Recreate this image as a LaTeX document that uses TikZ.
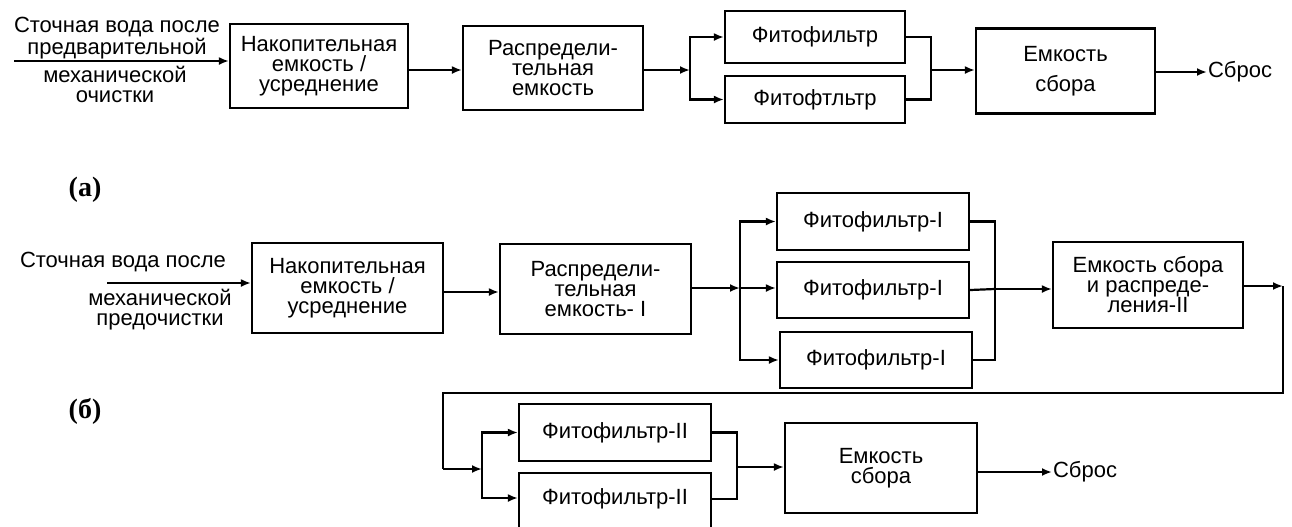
\documentclass[tikz,border=0pt]{standalone}
\usepackage{fontspec}
\setmainfont{Liberation Sans}
\newfontfamily\labelfont{Liberation Serif}
\usetikzlibrary{arrows.meta,calc,positioning}
\tikzset{
  unitbox/.style={draw=black,line width=1.1pt,align=center,inner sep=0pt,
    font=\fontsize{11}{10}\selectfont},
  flowtext/.style={align=center,inner sep=0pt,font=\fontsize{11}{10}\selectfont},
  arr/.style={-{Latex[length=5pt,width=4pt]}},
}
\begin{document}
\begin{tikzpicture}[x=0.5pt,y=-0.5pt,line width=1.1pt]
            \useasboundingbox (0,0) rectangle (1292,526);
            % Scheme (a): boxes
            \node[unitbox,minimum width=89pt,minimum height=42pt] (nak_a) at (319,66) {Накопительная\\емкость /\\усреднение};
            \node[unitbox,minimum width=90pt,minimum height=42pt] (raspr_a) at (553,68) {Распредели-\\тельная\\емкость};
            \node[unitbox,minimum width=90pt,minimum height=26pt] (ff_a1) at (815,37) {Фитофильтр};
            \node[unitbox,minimum width=90pt,minimum height=23.5pt] (ff_a2) at (815,99.5) {Фитофтльтр};
            \node[unitbox,minimum width=89.5pt,minimum height=42.5pt] (sbor_a) at (1065.5,71) {Емкость\\[5pt]сбора};
            \node[flowtext,anchor=west] (sbros_a) at (1207,72) {Сброс};
            % Scheme (a): input text
            \node[flowtext] (in_a_top) at (117,38) {Сточная вода после\\предварительной};
            \node[flowtext] (in_a_bot) at (115,84) {механической\\очистки};
            \coordinate (in_a) at (14,61);
            % Scheme (a): connectors
            \coordinate (spl_a) at (690,70);
            \coordinate (mrg_a) at (931,70);
            \draw[arr] (in_a) -- (nak_a.west |- in_a);
            \draw[arr] (nak_a.east |- spl_a) -- (raspr_a.west |- spl_a);
            \draw[arr] (raspr_a.east |- spl_a) -- (spl_a);
            \draw[arr] (spl_a) |- (ff_a1.west);
            \draw[arr] (spl_a) |- (ff_a2.west);
            \draw (ff_a1.east) -| (mrg_a) |- (ff_a2.east);
            \draw[arr] (mrg_a) -- (sbor_a.west |- mrg_a);
            \draw[arr] (sbor_a.east |- sbros_a) -- (sbros_a.west);
            % Labels
            \node[font=\labelfont\bfseries\fontsize{14}{15}\selectfont] (lbl_a) at (85,190) {(а)};
            \node[font=\labelfont\bfseries\fontsize{14}{15}\selectfont] (lbl_b) at (85,411) {(б)};
            % Scheme (b): boxes
            \node[unitbox,minimum width=95.5pt,minimum height=45pt] (nak_b) at (347.5,288) {Накопительная\\емкость /\\усреднение};
            \node[unitbox,minimum width=95.5pt,minimum height=45pt] (raspr_b) at (595.5,289) {Распредели-\\тельная\\емкость- I};
            \node[unitbox,minimum width=96pt,minimum height=28.5pt] (ff_b1) at (873,221.5) {Фитофильтр-I};
            \node[unitbox,minimum width=96pt,minimum height=28pt] (ff_b2) at (873,290) {Фитофильтр-I};
            \node[unitbox,minimum width=96pt,minimum height=28pt] (ff_b3) at (876,360) {Фитофильтр-I};
            \node[unitbox,minimum width=95pt,minimum height=43pt] (sbor_b) at (1148,285) {Емкость сбора\\и распреде-\\ления-II};
            \node[unitbox,minimum width=96pt,minimum height=28.5pt] (ff_c1) at (615,432.5) {Фитофильтр-II};
            \node[unitbox,minimum width=96pt,minimum height=31pt,text depth=0pt] (ff_c2) at (615,504) {\raisebox{7pt}{Фитофильтр-II}};
            \node[unitbox,minimum width=96pt,minimum height=45pt] (sbor_c) at (881,468) {Емкость\\сбора};
            \node[flowtext,anchor=west] (sbros_c) at (1052,472) {Сброс};
            % Scheme (b): input text
            \node[flowtext] (in_b_top) at (123,262) {Сточная вода после};
            \node[flowtext] (in_b_bot) at (160,310) {механической\\предочистки};
            \coordinate (in_b) at (107,283);
            % Scheme (b): connectors
            \coordinate (spl_b) at (740,288);
            \coordinate (mrg_b) at (995,289);
            \coordinate (turn_r) at (1283,286);
            \coordinate (turn_d) at (1283,393);
            \coordinate (turn_l) at (443,393);
            \coordinate (turn_b) at (443,469);
            \coordinate (spl_c) at (482,469);
            \coordinate (mrg_c) at (737,467);
            \draw[arr] (in_b) -- (nak_b.west |- in_b);
            \draw[arr] (nak_b.east |- 0,292) -- (raspr_b.west |- 0,292);
            \draw[arr] (raspr_b.east |- spl_b) -- (spl_b);
            \draw[arr] (spl_b) |- (ff_b1.west);
            \draw[arr] (spl_b) -- (ff_b2.west |- spl_b);
            \draw[arr] (spl_b) |- (ff_b3.west);
            \draw (ff_b1.east) -| (mrg_b) |- (ff_b3.east);
            \draw (ff_b2.east) -- (mrg_b);
            \draw[arr] (mrg_b) -- (sbor_b.west |- mrg_b);
            \draw[arr] (sbor_b.east |- turn_r) -- (turn_r);
            \draw (turn_r) -- (turn_d) -- (turn_l) -- (turn_b);
            \draw[arr] (turn_b) -- (spl_c);
            \draw[arr] (spl_c) |- (ff_c1.west);
            \draw[arr] (spl_c) |- (ff_c2.west |- 0,498);
            \draw (ff_c1.east) -| (mrg_c) |- (ff_c2.east |- 0,499);
            \draw[arr] (mrg_c) -- (sbor_c.west |- mrg_c);
            \draw[arr] (sbor_c.east |- sbros_c) -- (sbros_c.west);
\end{tikzpicture}
\end{document}
